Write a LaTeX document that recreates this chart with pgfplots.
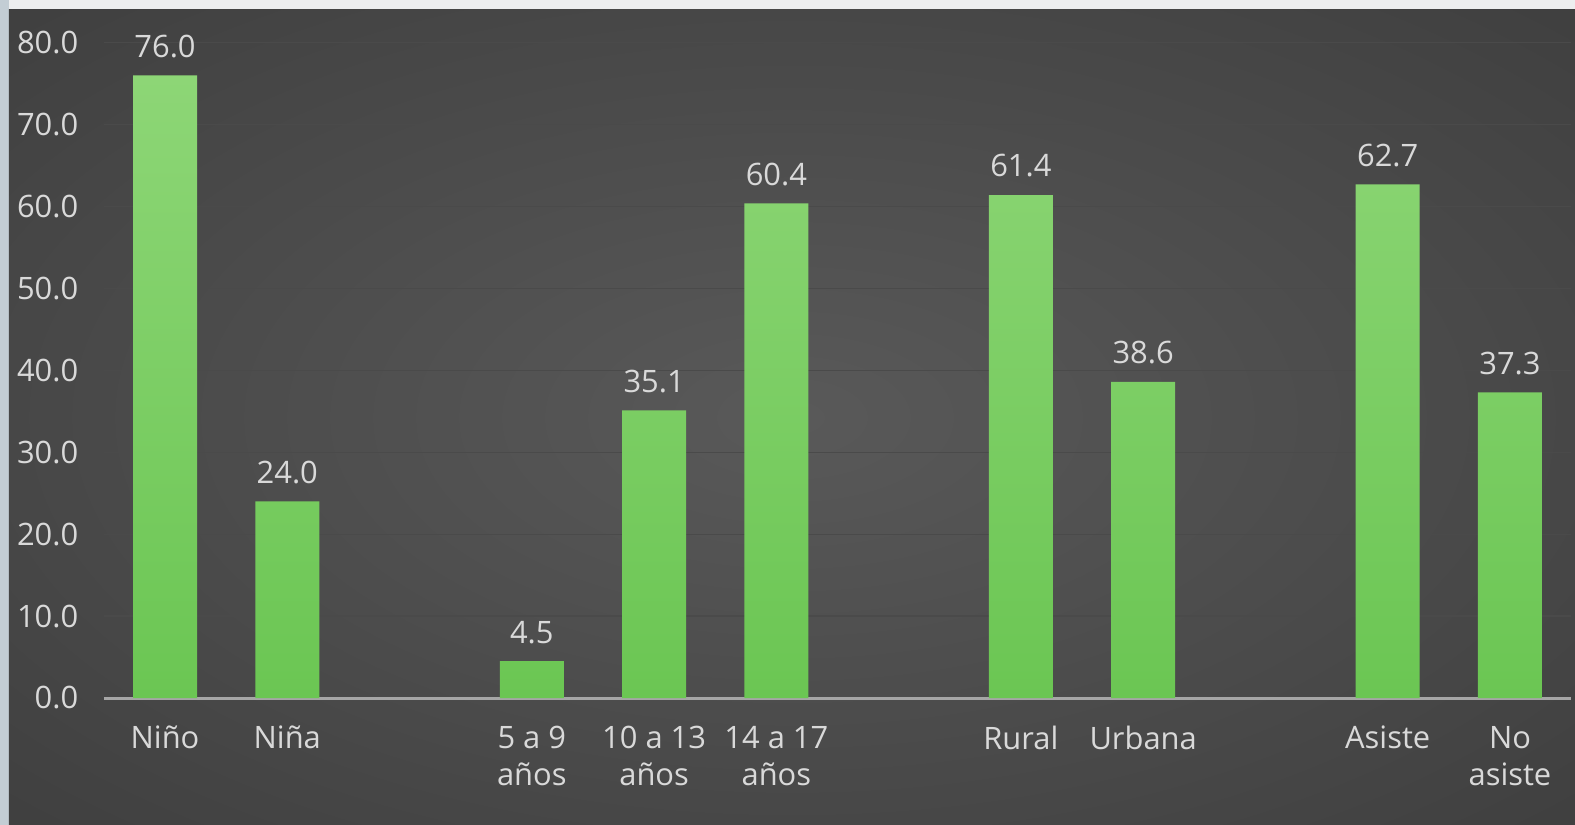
\documentclass[border=0pt]{standalone}
\usepackage{fontspec}
\setmainfont{Open Sans}
\usepackage{pgfplots}
\pgfplotsset{compat=1.18}
\usetikzlibrary{backgrounds}

\definecolor{lbl}{HTML}{D9D9D9}
\definecolor{gridc}{HTML}{4A4A4A}
\definecolor{basec}{HTML}{A6A6A6}
\definecolor{bartop}{HTML}{8DD676}
\definecolor{barbot}{HTML}{6BC653}
\definecolor{framec}{HTML}{EDEEEF}
\definecolor{framel}{HTML}{C3CDD4}

\pgfdeclareradialshading{bgglow}{\pgfpoint{0bp}{0bp}}{%
  rgb(0bp)=(0.35,0.35,0.35);
  rgb(70bp)=(0.15,0.15,0.15)}

\begin{document}%
\begin{tikzpicture}
\begin{axis}[
    at={(0,0)}, anchor=south west,
    width=733.6bp, height=327.65bp, scale only axis,
    ybar, bar width=32bp,
    xmin=-0.5, xmax=11.5,
    ymin=0, ymax=80,
    xtick={0,1,3,4,5,7,8,10,11},
    xticklabels={Niño, Niña, 5 a 9\\años, 10 a 13\\años, 14 a 17\\años,
                 Rural, Urbana, Asiste, No\\asiste},
    ytick={0,10,...,80},
    major tick length=0pt,
    axis x line*=bottom,
    axis y line*=left,
    x axis line style={-, color=basec, line width=1.5bp},
    y axis line style={draw=none},
    ymajorgrids,
    grid style={color=gridc, line width=0.6bp},
    xticklabel style={font=\fontsize{15.5}{18.5}\selectfont, text=lbl,
        align=center, anchor=north, yshift=-10.6bp},
    yticklabel style={font=\fontsize{15.5}{18.5}\selectfont, text=lbl,
        anchor=east, xshift=-9.3bp,
        /pgf/number format/.cd, fixed, fixed zerofill, precision=1,
        assume math mode=true},
    nodes near coords,
    nodes near coords style={font=\fontsize{15.5}{18.5}\selectfont, text=lbl,
        yshift=5.3bp,
        /pgf/number format/.cd, fixed, fixed zerofill, precision=1,
        assume math mode=true},
]
\addplot[draw=none, top color=bartop, bottom color=barbot] coordinates {
    (0, 76.0)
    (1, 24.0)
    (3, 4.5)
    (4, 35.1)
    (5, 60.4)
    (7, 61.4)
    (8, 38.6)
    (10, 62.7)
    (11, 37.3)
};
\end{axis}
\begin{scope}[on background layer]
  \fill[framec] (-51.95bp,-63.5bp) rectangle (735.55bp,349bp);
  \fill[framel] (-51.95bp,-63.5bp) rectangle (-47.45bp,349bp);
  \shade[shading=bgglow] (-47.45bp,-63.5bp) rectangle (735.55bp,344bp);
\end{scope}
\pgfresetboundingbox
\path[use as bounding box] (-51.95bp,-63.5bp) rectangle (735.55bp,349bp);
\end{tikzpicture}%
\end{document}
